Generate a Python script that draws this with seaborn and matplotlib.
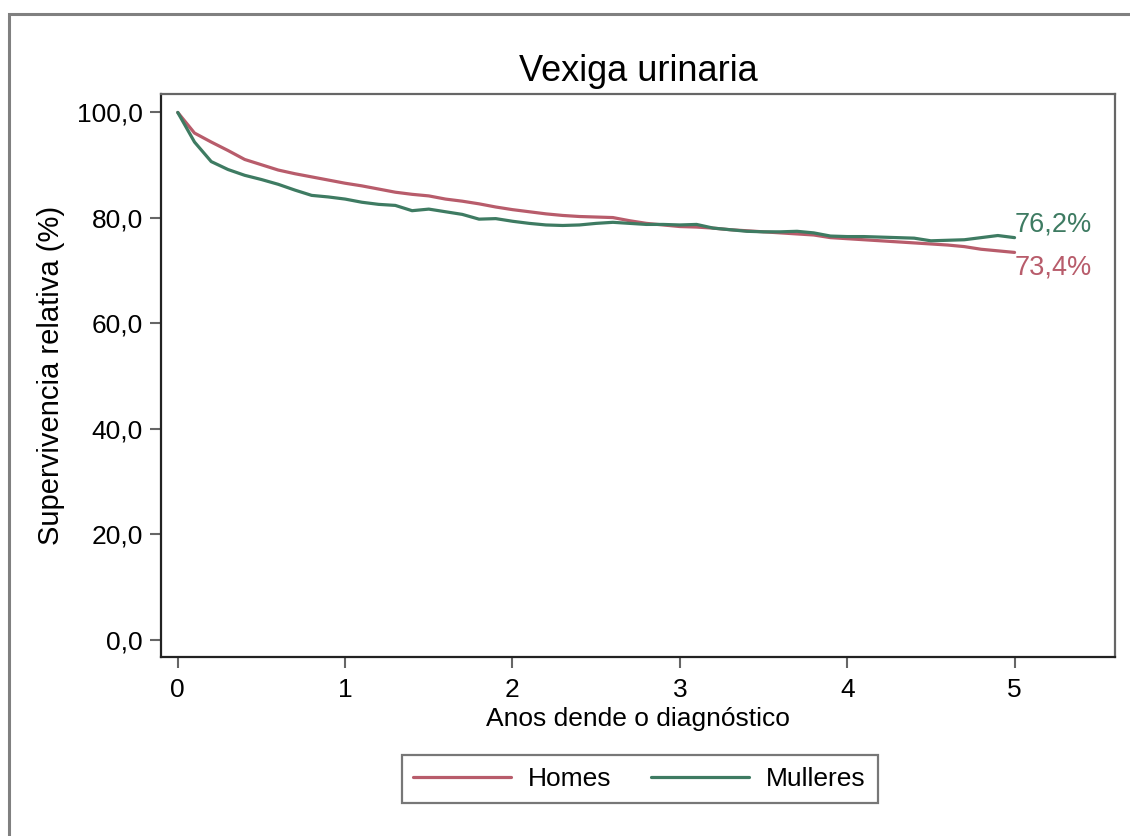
"""Relative survival curve, bladder cancer, by sex."""

import matplotlib.pyplot as plt
import pandas as pd
import seaborn as sns
from matplotlib.patches import Rectangle

years = [round(i * 0.1, 1) for i in range(51)]

homes = [
    99.9, 96.0, 94.3, 92.7, 91.0, 90.0, 89.0, 88.3, 87.7, 87.1,
    86.5, 86.0, 85.4, 84.8, 84.4, 84.1, 83.5, 83.1, 82.6, 82.0,
    81.5, 81.1, 80.7, 80.4, 80.2, 80.1, 80.0, 79.4, 78.9, 78.6,
    78.3, 78.2, 78.0, 77.7, 77.5, 77.3, 77.1, 76.9, 76.7, 76.2,
    76.0, 75.8, 75.6, 75.4, 75.2, 75.0, 74.8, 74.5, 74.0, 73.7,
    73.4,
]
mulleres = [
    99.9, 94.3, 90.6, 89.1, 88.0, 87.2, 86.3, 85.2, 84.2, 83.9,
    83.5, 82.9, 82.5, 82.3, 81.3, 81.6, 81.1, 80.6, 79.7, 79.8,
    79.3, 78.9, 78.6, 78.5, 78.6, 78.9, 79.1, 78.9, 78.7, 78.7,
    78.6, 78.7, 78.0, 77.7, 77.4, 77.3, 77.3, 77.4, 77.1, 76.5,
    76.4, 76.4, 76.3, 76.2, 76.1, 75.6, 75.7, 75.8, 76.2, 76.6,
    76.2,
]
series = ["Homes", "Mulleres"]
palette = {"Homes": "#B85C6B", "Mulleres": "#3E7B62"}

df = pd.DataFrame({
    "ano": years * 2,
    "sv": homes + mulleres,
    "sexo": ["Homes"] * len(years) + ["Mulleres"] * len(years),
})

sns.set_theme(style="white")
plt.rcParams["font.family"] = ["Liberation Sans", "DejaVu Sans"]
plt.rcParams["text.color"] = "black"
plt.rcParams["axes.labelcolor"] = "black"
plt.rcParams["xtick.labelcolor"] = "black"
plt.rcParams["ytick.labelcolor"] = "black"

fig = plt.figure(figsize=(11.3, 8.36), dpi=100)
ax = fig.add_axes([0.1425, 0.2141, 0.8442, 0.6735])

sns.lineplot(
    data=df, x="ano", y="sv", hue="sexo", hue_order=series,
    palette=palette, linewidth=2.3, ax=ax, legend=False,
)

ax.set_xlim(-0.1, 5.6)
ax.set_ylim(-3.2, 103.4)
ax.set_xticks(range(6))
ax.set_yticks([0, 20, 40, 60, 80, 100])
ax.yaxis.set_major_formatter(plt.FuncFormatter(lambda v, _: f"{v:.1f}".replace(".", ",")))
ax.tick_params(axis="both", direction="out", length=8, width=1.5, color="#666666",
               labelsize=19, pad=5, bottom=True, left=True)
ax.tick_params(axis="x", pad=7)
for side in ["left", "bottom"]:
    ax.spines[side].set_color("#222222")
    ax.spines[side].set_linewidth(1.6)
for side in ["right", "top"]:
    ax.spines[side].set_color("#666666")
    ax.spines[side].set_linewidth(1.6)

ax.set_xlabel("Anos dende o diagnóstico", fontsize=19, labelpad=4)
ax.set_ylabel("Supervivencia relativa (%)", fontsize=21, labelpad=9)
ax.set_title("Vexiga urinaria", fontsize=26, pad=9)

for name, vals, dy in [("Mulleres", mulleres, 2.4), ("Homes", homes, -2.9)]:
    ax.text(years[-1], vals[-1] + dy, f"{vals[-1]:.1f}%".replace(".", ","),
            color=palette[name], fontsize=19.5, va="center", ha="left")

handles = [plt.Line2D([], [], color=palette[s], linewidth=2.3) for s in series]
leg = fig.legend(
    handles, series, loc="center", bbox_to_anchor=(0.566, 0.068), ncol=2,
    frameon=True, fancybox=False, fontsize=19, handlelength=3.7,
    columnspacing=1.5, handletextpad=0.65, borderpad=0.45,
)
leg.get_frame().set_edgecolor("#555555")
leg.get_frame().set_linewidth(1.6)

fig.patches.append(Rectangle((9 / 1130, -0.1), 1.2, 1 - 14 / 836 + 0.1,
                             transform=fig.transFigure, fill=False,
                             edgecolor="#808080", linewidth=2.2))

fig.savefig("out.png", dpi=100)
